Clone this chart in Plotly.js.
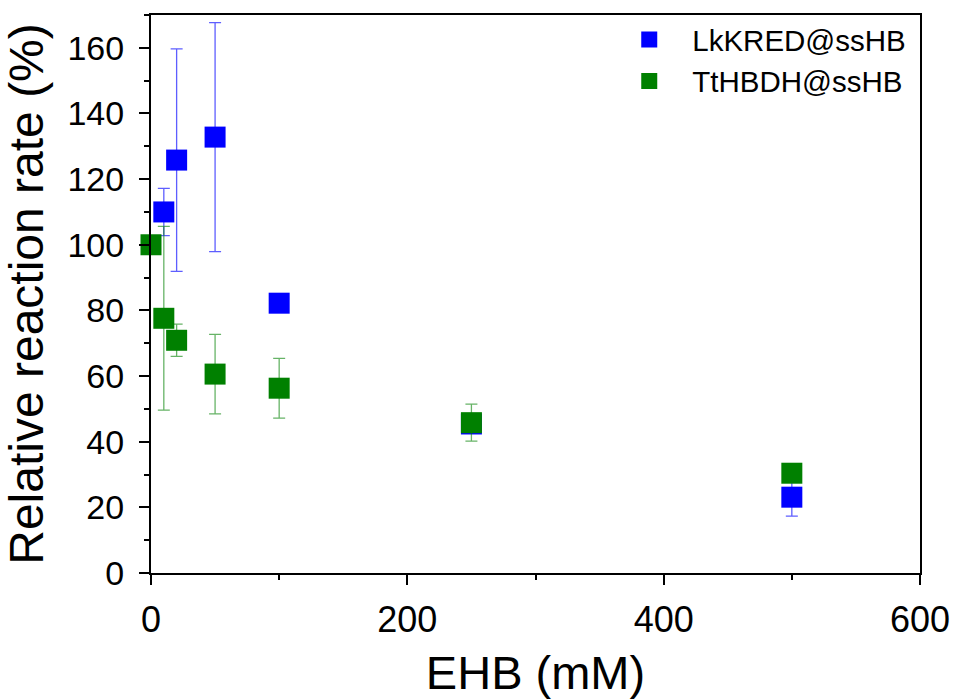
<!DOCTYPE html>
<html>
<head>
<meta charset="utf-8">
<script src="https://cdn.plot.ly/plotly-3.0.1.min.js"></script>
<style>html,body{margin:0;padding:0;background:#fff;}#chart{width:956px;height:699px;}</style>
</head>
<body>
<div id="chart"></div>
<script>
// EHB concentration (mM)
const lkX = [10, 20, 50, 100, 250, 500];
const lkY = [110.0, 125.8, 132.8, 82.2, 45.4, 23.1];
const lkErr = [7.2, 33.9, 34.9, 1.5, 1.5, 5.8];

const ttX = [0, 10, 20, 50, 100, 250, 500];
const ttY = [100, 77.6, 70.9, 60.6, 56.3, 45.8, 30.4];
const ttErr = [0, 28, 4.9, 12.1, 9.1, 5.65, 1.5];

const seriesNames = ["LkKRED@ssHB", "TtHBDH@ssHB"];

const FONT = "Liberation Sans, Arial, sans-serif";

const traces = [
  {
    x: lkX, y: lkY, name: seriesNames[0], type: "scatter", mode: "markers",
    cliponaxis: false,
    marker: {symbol: "square", size: 21, color: "#0000ff"},
    error_y: {type: "data", array: lkErr, visible: true, color: "rgba(40,40,255,0.75)", thickness: 1.3, width: 6}
  },
  {
    x: ttX, y: ttY, name: seriesNames[1], type: "scatter", mode: "markers",
    cliponaxis: false,
    marker: {symbol: "square", size: 21, color: "#008000"},
    error_y: {type: "data", array: ttErr, visible: true, color: "rgba(0,128,0,0.6)", thickness: 1.3, width: 6}
  }
];

const layout = {
  width: 956, height: 699,
  margin: {l: 151, r: 36, t: 15, b: 126, pad: 0},
  paper_bgcolor: "#fff", plot_bgcolor: "#fff",
  font: {family: FONT, color: "#000"},
  showlegend: true,
  legend: {
    x: 0.592, y: 1.002, xanchor: "left", yanchor: "top",
    font: {family: FONT, size: 29.5, color: "#000"},
    bgcolor: "rgba(0,0,0,0)", borderwidth: 0,
    itemwidth: 76, tracegroupgap: 0
  },
  xaxis: {
    range: [0, 600], dtick: 200, tick0: 0,
    showgrid: false, zeroline: false,
    showline: true, mirror: true, linecolor: "#000", linewidth: 2,
    ticks: "outside", ticklen: 10, tickwidth: 2, tickcolor: "#000",
    ticklabelstandoff: 4,
    tickfont: {family: FONT, size: 36, color: "#000"},
    minor: {dtick: 100, ticks: "outside", ticklen: 5, tickwidth: 2, tickcolor: "#000", showgrid: false},
    title: {text: "EHB (mM)", font: {family: FONT, size: 47, color: "#000"}, standoff: 23}
  },
  yaxis: {
    range: [0, 170], dtick: 20, tick0: 0,
    showgrid: false, zeroline: false,
    showline: true, mirror: true, linecolor: "#000", linewidth: 2,
    ticks: "outside", ticklen: 10, tickwidth: 2, tickcolor: "#000",
    ticklabelstandoff: 8,
    tickfont: {family: FONT, size: 34, color: "#000"},
    minor: {dtick: 10, ticks: "outside", ticklen: 5, tickwidth: 2, tickcolor: "#000", showgrid: false},
    title: {text: "Relative reaction rate (%)", font: {family: FONT, size: 48, color: "#000"}, standoff: 10}
  }
};

Plotly.newPlot("chart", traces, layout, {displayModeBar: false, staticPlot: true});
</script>
</body>
</html>
